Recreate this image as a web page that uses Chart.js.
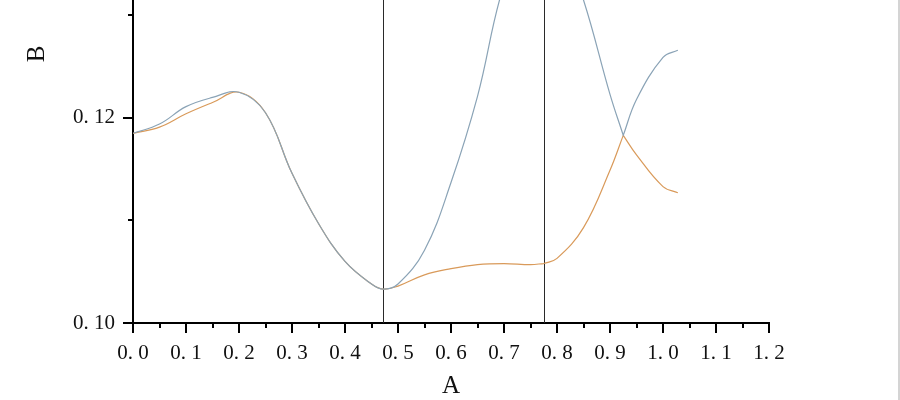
<!DOCTYPE html>
<html><head><meta charset="utf-8">
<script src="https://cdn.jsdelivr.net/npm/chart.js@4/dist/chart.umd.min.js"></script>
<style>html,body{margin:0;padding:0;background:#fff;}#wrap{width:900px;height:400px;}</style>
</head><body><div id="wrap"><canvas id="c" width="900" height="400"></canvas></div>
<script>
// A values (x); corner points (0.775 and the crossing at 0.925) are listed twice so the curves keep their corners
const xValues = [0, 0.05, 0.1, 0.15, 0.2, 0.25, 0.3, 0.35, 0.4, 0.45, 0.472, 0.5, 0.55, 0.6, 0.65, 0.7, 0.75, 0.775, 0.775, 0.8, 0.85, 0.9, 0.925, 0.925, 0.95, 1.0, 1.028];
// upper branch of B (blue-grey)
const upperB = [0.1185, 0.1194, 0.1211, 0.1220, 0.1225, 0.1205, 0.1146, 0.1097, 0.1060, 0.1038, 0.1033, 0.1038, 0.1071, 0.1137, 0.1221, 0.1330, 0.1385, 0.1395, 0.1395, 0.1385, 0.1315, 0.1223, 0.1183, 0.1183, 0.1218, 0.1259, 0.1266];
// lower branch of B (orange)
const lowerB = [0.1185, 0.1191, 0.1204, 0.1215, 0.1225, 0.1205, 0.1146, 0.1097, 0.1060, 0.1038, 0.1033, 0.1036, 0.1047, 0.1053, 0.1057, 0.1058, 0.1057, 0.1058, 0.1058, 0.1063, 0.1093, 0.1149, 0.1183, 0.1183, 0.1164, 0.1133, 0.1127];
// vertical marker lines
const markerA = [0.472, 0.775];
// axis settings
const xRange = [0, 1.2];
const yRange = [0.10, 0.1315];
const xMajorStep = 0.1, xMinorStep = 0.05;
const yMajorStep = 0.02, yMinorStep = 0.01;
const xTitle = 'A', yTitle = 'B';

const FONT = "'Liberation Serif', 'DejaVu Serif', serif";

const toPts = ys => xValues.map((x, i) => ({x: x, y: ys[i]}));

const decor = {
  id: 'decor',
  beforeDatasetsDraw(chart) {
    const {ctx, chartArea, scales: {x}} = chart;
    ctx.save();
    ctx.strokeStyle = '#2a2a2a';
    ctx.lineWidth = 1;
    markerA.forEach(v => {
      const px = Math.round(x.getPixelForValue(v)) + 0.5;
      ctx.beginPath();
      ctx.moveTo(px, chartArea.top);
      ctx.lineTo(px, chartArea.bottom);
      ctx.stroke();
    });
    ctx.restore();
  },
  afterDraw(chart) {
    const {ctx, chartArea, scales: {x, y}} = chart;
    ctx.save();
    ctx.strokeStyle = '#000';
    ctx.lineWidth = 2;
    const nx = Math.round((xRange[1] - xRange[0]) / xMinorStep);
    for (let i = 0; i <= nx; i++) {
      const v = xRange[0] + i * xMinorStep;
      const px = Math.round(x.getPixelForValue(v));
      const len = (i % 2 === 0) ? 10 : 5;
      ctx.beginPath();
      ctx.moveTo(px, chartArea.bottom);
      ctx.lineTo(px, chartArea.bottom + len);
      ctx.stroke();
    }
    const ny = Math.floor((yRange[1] - yRange[0]) / yMinorStep + 1e-9);
    for (let i = 0; i <= ny; i++) {
      const v = yRange[0] + i * yMinorStep;
      const py = Math.round(y.getPixelForValue(v));
      const len = (i % 2 === 0) ? 10 : 5;
      ctx.beginPath();
      ctx.moveTo(chartArea.left, py);
      ctx.lineTo(chartArea.left - len, py);
      ctx.stroke();
    }
    ctx.fillStyle = '#111';
    ctx.font = '25px ' + FONT;
    ctx.textAlign = 'center';
    ctx.textBaseline = 'middle';
    ctx.fillText(xTitle, (chartArea.left + chartArea.right) / 2, 386);
    ctx.save();
    ctx.translate(37, 54);
    ctx.rotate(-Math.PI / 2);
    ctx.fillText(yTitle, 0, 0);
    ctx.restore();
    // faint frame edge seen at the right border of the reference
    ctx.fillStyle = '#d4d4d4';
    ctx.fillRect(chart.width - 2, 0, 2, chart.height);
    ctx.restore();
  }
};

new Chart(document.getElementById('c'), {
  type: 'line',
  data: {
    datasets: [
      {label: 'B upper', data: toPts(upperB), borderColor: '#8aa3b6', borderWidth: 1.2, pointRadius: 0, tension: 0.4, fill: false},
      {label: 'B lower', data: toPts(lowerB), borderColor: '#d99a5a', borderWidth: 1.2, pointRadius: 0, tension: 0.4, fill: false}
    ]
  },
  options: {
    responsive: false,
    animation: false,
    devicePixelRatio: 1,
    layout: {padding: {top: 0, right: 131, left: 0, bottom: 0}},
    elements: {line: {capBezierPoints: false}},
    plugins: {legend: {display: false}, tooltip: {enabled: false}},
    scales: {
      x: {
        type: 'linear', min: xRange[0], max: xRange[1],
        grid: {display: false},
        border: {display: true, color: '#000', width: 2},
        ticks: {stepSize: xMajorStep, padding: 10, color: '#111', font: {family: FONT, size: 21},
          callback: v => v.toFixed(1).replace('.', '. ')},
        afterFit: s => { s.height = 77; s.paddingLeft = 0; s.paddingRight = 0; }
      },
      y: {
        type: 'linear', min: yRange[0], max: yRange[1],
        grid: {display: false},
        border: {display: true, color: '#000', width: 2},
        ticks: {stepSize: yMajorStep, includeBounds: false, padding: 10, color: '#111', font: {family: FONT, size: 21},
          callback: v => v.toFixed(2).replace('.', '. ')},
        afterFit: s => { s.width = 133; s.paddingTop = 0; s.paddingBottom = 0; }
      }
    }
  },
  plugins: [decor]
});
</script>
</body></html>
